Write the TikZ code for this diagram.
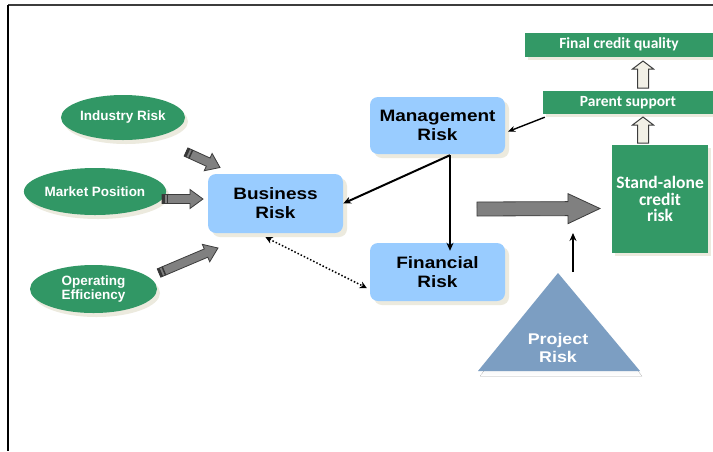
\documentclass[tikz,border=0pt]{standalone}
\usepackage{fontspec}
\setmainfont{Liberation Sans}
\newfontfamily\wideArial[FakeStretch=1.15]{Liberation Sans}
\newfontfamily\calib{Carlito}
\usetikzlibrary{shapes.geometric,shadows,arrows.meta,calc}
\definecolor{dgreen}{RGB}{51,153,102}
\definecolor{egreen}{RGB}{49,151,101}
\definecolor{lblue}{RGB}{153,204,255}
\definecolor{triC}{RGB}{124,158,194}
\definecolor{grayA}{RGB}{128,128,128}
\definecolor{beigeA}{RGB}{242,240,230}
\definecolor{shade}{RGB}{236,234,222}
\definecolor{outl}{RGB}{60,60,60}
\definecolor{stripe}{RGB}{55,55,55}

\newcommand\blockarrow[7]{% #1 tail, #2 tip, #3 half shaft, #4 half head, #5 head length, #6 style, #7 striped (1/0)
  \path let \p1=(#1), \p2=(#2) in \pgfextra{%
    \pgfmathsetmacro\baang{atan2(\y2-\y1,\x2-\x1)}%
    \pgfmathsetmacro\balen{veclen(\x2-\x1,\y2-\y1)}%
    \global\let\baangG\baang \global\let\balenG\balen};
  \begin{scope}[shift={(#1)}, rotate=\baangG]
    \path[#6] (0,-#3) -- (\balenG-#5,-#3) -- (\balenG-#5,-#4) -- (\balenG,0)
      -- (\balenG-#5,#4) -- (\balenG-#5,#3) -- (0,#3) -- cycle;
    \ifnum#7=1
      \fill[stripe] (0,-#3) rectangle (2.5,#3);
      \fill[stripe] (4.5,-#3) rectangle (6,#3);
    \fi
  \end{scope}}

\tikzset{
  riskbox/.style={rectangle, rounded corners=8pt, fill=lblue, align=center,
    font=\wideArial\bfseries\fontsize{16.5}{19}\selectfont, inner sep=0pt,
    drop shadow={shadow xshift=4pt, shadow yshift=-4pt, fill=shade, opacity=1}},
  factor/.style={ellipse, fill=egreen, text=white, align=center, inner sep=0pt,
    font=\bfseries\fontsize{13.5}{13.5}\selectfont,
    drop shadow={shadow xshift=3pt, shadow yshift=-4pt, fill=shade, opacity=1}},
  greenbar/.style={rectangle, fill=dgreen, text=white, align=center, inner sep=0pt,
    font=\calib\bfseries\fontsize{15.5}{16.5}\selectfont,
    drop shadow={shadow xshift=3pt, shadow yshift=-3pt, fill=shade, opacity=1}},
  link/.style={line width=2pt, -{Stealth[length=8pt,width=7pt]}},
  thinlink/.style={line width=1.4pt, -{Stealth[length=7pt,width=6pt]}},
  dotlink/.style={line width=1.5pt, dotted, {Stealth[length=7pt,width=7pt]}-{Stealth[length=7pt,width=7pt]}},
  grayblk/.style={fill=grayA, draw=outl, line width=0.8pt},
  beigeblk/.style={fill=beigeA, draw=outl, line width=1pt},
}

\begin{document}
\begin{tikzpicture}[x=1pt,y=-1pt]
\useasboundingbox (0,0) rectangle (713,451);
\fill[white] (0,0) rectangle (713,451);

% frame
\draw[line width=2pt, outl] (8,5) -- (713,5);
\draw[line width=1.4pt, black] (8,5) -- (8,451);

% right column
\node[greenbar, minimum width=188pt, minimum height=24pt] (fcq) at (619,44.5) {Final credit quality};
\node[greenbar, minimum width=170pt, minimum height=23pt] (ps) at (628,102.5) {Parent support};
\node[greenbar, minimum width=96pt, minimum height=108pt,
      font=\calib\bfseries\fontsize{17.5}{16.5}\selectfont] (sa) at (660,199) {Stand-alone\\credit\\risk};

\coordinate (u1a) at (643,88);  \coordinate (u1b) at (643,61);
\coordinate (u2a) at (643,143); \coordinate (u2b) at (643,117);
\blockarrow{u1a}{u1b}{5.5}{10.5}{8}{beigeblk}{0}
\blockarrow{u2a}{u2b}{5.5}{10.5}{8}{beigeblk}{0}

% factor ellipses
\node[factor, minimum width=124pt, minimum height=45pt] (ind) at (123,117.5) {Industry Risk};
\node[factor, minimum width=124pt, minimum height=47pt] (mkt) at (95,191.5) {Market Position};
\node[factor, minimum width=127pt, minimum height=48pt] (ope) at (93.5,289) {Operating\\Efficiency};

% risk boxes
\node[riskbox, minimum width=135pt, minimum height=59pt] (bus) at (275.5,203.5) {Business\\Risk};
\node[riskbox, minimum width=135pt, minimum height=57pt] (mgmt) at (437.5,125.5) {Management\\Risk};
\node[riskbox, minimum width=135pt, minimum height=58pt] (fin) at (437.5,272) {Financial\\Risk};

% gray block arrows into Business Risk
\coordinate (ia) at (186,152); \coordinate (ib) at (220,167.5);
\coordinate (ma) at (162,199); \coordinate (mb) at (203,199);
\coordinate (oa) at (159,273); \coordinate (ob) at (218,248);
\blockarrow{ia}{ib}{4.5}{9.5}{13}{grayblk}{1}
\blockarrow{ma}{mb}{4.5}{9.5}{13}{grayblk}{1}
\blockarrow{oa}{ob}{4.5}{9.5}{13}{grayblk}{1}

% big arrow to stand-alone
\coordinate (ba) at (477,209); \coordinate (bb) at (600,208.5);
\blockarrow{ba}{bb}{7}{15}{32}{grayblk}{0}

% project risk triangle
\coordinate (tA) at (558,273); \coordinate (tL) at (478,371); \coordinate (tR) at (640,371);
\fill[shade] ($(tA)+(2,5)$) -- ($(tL)+(2,5)$) -- ($(tR)+(2,5)$) -- cycle;
\fill[triC] (tA) -- (tL) -- (tR) -- cycle;
\node[text=white, align=center, font=\wideArial\bfseries\fontsize{15.5}{18}\selectfont] (proj) at (558,347.5) {Project\\Risk};

% connectors
\draw[link] ($(mgmt.south)+(12.5,1)$) -- (bus.east);
\draw[link] ($(mgmt.south)+(12.5,1)$) -- ($(fin.north)+(12.5,8)$);
\draw[thinlink] ($(ps.south west)+(2,3)$) -- ($(mgmt.east)+(3,6)$);
\draw[dotlink] ($(bus.south)+(-10,4)$) -- ($(fin.west)+(-3,16)$);
\coordinate (pa) at (573,272); \coordinate (pb) at (573,233);
\draw[link] (pa) -- (pb);
\end{tikzpicture}
\end{document}
